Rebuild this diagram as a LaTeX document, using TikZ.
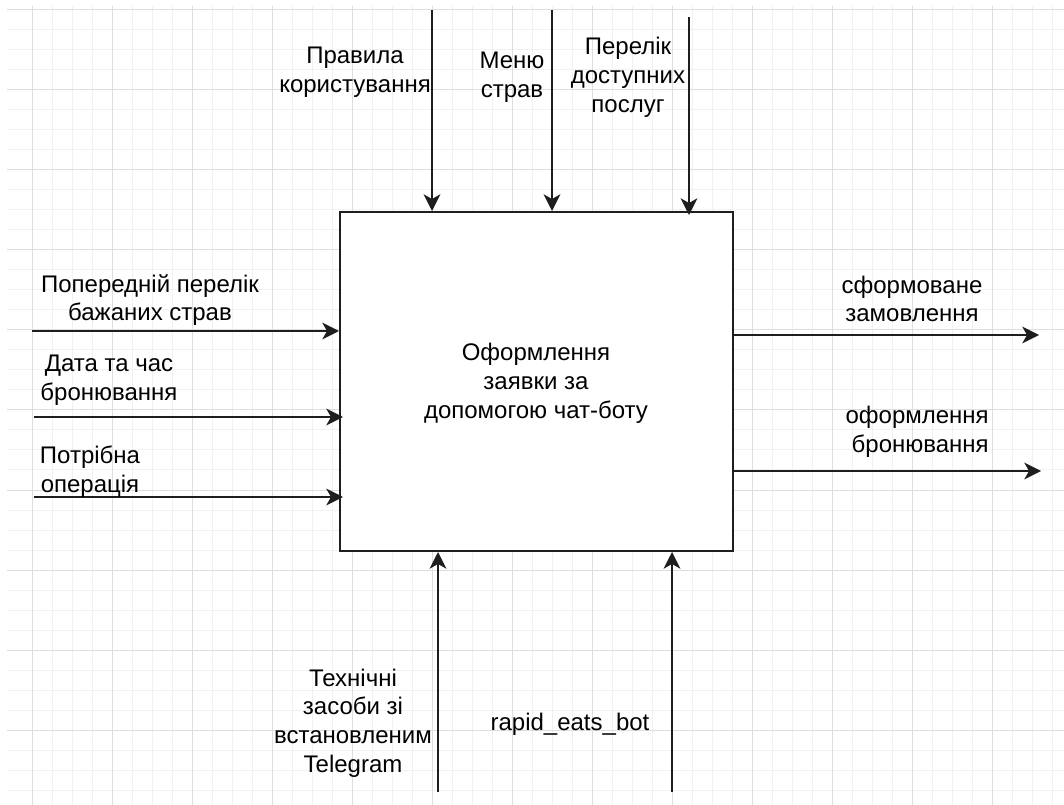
\documentclass[tikz,border=0pt]{standalone}
\usepackage{fontspec}
\setmainfont{Liberation Sans}
\usetikzlibrary{arrows.meta}
\definecolor{gridminor}{HTML}{F1F1F1}
\definecolor{gridmajor}{HTML}{DEDEDE}
\definecolor{ink}{HTML}{1E1E1E}
\begin{document}
\begin{tikzpicture}[x=0.75pt,y=-0.75pt,
  lbl/.style={font=\fontsize{18}{21.6}\selectfont, align=center, inner sep=0pt, text=black},
  flow/.style={draw=ink, line width=1.5pt, -{Stealth[length=12.5pt,width=12.5pt,inset=3.5pt]}},
  boxstyle/.style={draw=ink, line width=1.5pt, fill=white, inner sep=0pt, anchor=north west,
    minimum width=294.75pt, minimum height=254.25pt},
  minorline/.style={draw=gridminor, line width=0.75pt},
  majorline/.style={draw=gridmajor, line width=0.75pt}]
\useasboundingbox (0,0) rectangle (1064,805);
\fill[white] (0,0) rectangle (1064,805);
% grid
\foreach \x in {32,52,...,1052} \draw[minorline] (\x,6) -- (\x,805);
\foreach \y in {10,30,...,790} \draw[minorline] (7,\y) -- (1064,\y);
\foreach \x in {32,112,...,992} \draw[majorline] (\x,6) -- (\x,805);
\foreach \y in {10,90,...,730} \draw[majorline] (7,\y) -- (1064,\y);
% main box
\node[boxstyle] (box) at (339,211) {};
\node[lbl] (title) at (536,383) {Оформлення\\заявки за\\допомогою чат-боту};
% controls (top)
\coordinate (t1) at (432,10);
\coordinate (t2) at (552,10);
\coordinate (t3) at (689,17);
\coordinate (t3e) at (689,215);
\draw[flow] (t1) -- (t1 |- box.north);
\draw[flow] (t2) -- (t2 |- box.north);
\draw[flow] (t3) -- (t3e);
\node[lbl] (c1) at (355,72) {Правила\\користування};
\node[lbl] (c2) at (512,77) {Меню\\страв};
\node[lbl] (c3) at (628,77) {Перелік\\доступних\\послуг};
% inputs (left)
\coordinate (l1) at (32,331);
\coordinate (l2) at (34,417);
\coordinate (l2e) at (343,417);
\coordinate (l3) at (34,497);
\coordinate (l3e) at (343,497);
\draw[flow] (l1) -- (l1 -| box.west);
\draw[flow] (l2) -- (l2e);
\draw[flow] (l3) -- (l3e);
\node[lbl] (i1) at (150,300) {Попередній перелік\\бажаних страв};
\node[lbl] (i2) at (109,380) {Дата та час\\бронювання};
\node[lbl] (i3) at (90,472) {Потрібна\\операція};
% outputs (right)
\coordinate (o1) at (1039,335);
\coordinate (o2) at (1041,471);
\draw[flow] (o1 -| box.east) -- (o1);
\draw[flow] (o2 -| box.east) -- (o2);
\node[lbl] (q1) at (912,299) {сформоване\\замовлення};
\node[lbl,align=right,anchor=east] (q2) at (989,432) {оформлення\\бронювання};
% mechanisms (bottom)
\coordinate (b1) at (438,792);
\coordinate (b2) at (672,792);
\draw[flow] (b1) -- (b1 |- box.south);
\draw[flow] (b2) -- (b2 |- box.south);
\node[lbl] (m1) at (353,723) {Технічні\\засоби зі\\встановленим\\Telegram};
\node[lbl] (m2) at (570,724) {rapid\_eats\_bot};
\end{tikzpicture}
\end{document}
